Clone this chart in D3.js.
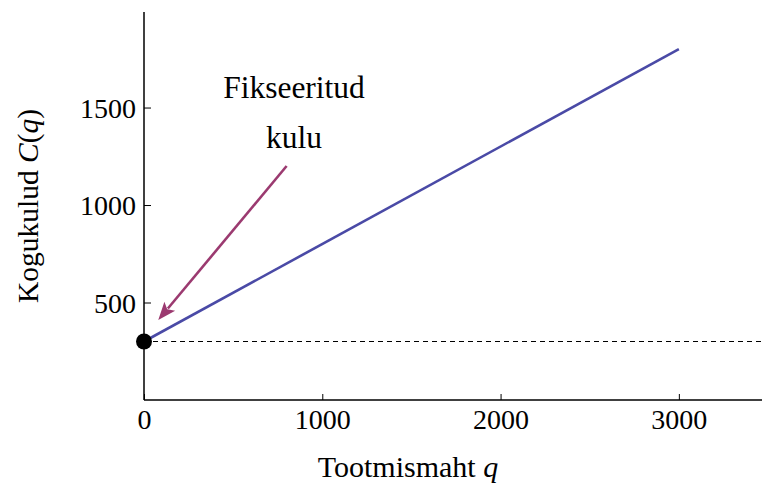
<!DOCTYPE html>
<html><head><meta charset="utf-8">
<script src="https://cdn.jsdelivr.net/npm/d3@7"></script>
<style>
html,body{margin:0;padding:0;background:#fff;}
svg{display:block;}
text{font-family:"Liberation Serif","Times New Roman",serif;fill:#000;}
</style></head>
<body>
<svg id="c" width="762" height="486"></svg>
<script>
const xTicks = [0, 1000, 2000, 3000];
const yTicks = [500, 1000, 1500];
const costQ = [0, 3000];
const costC = [300, 1800];
const fixedCost = 300;
const arrowFrom = [800, 1200];
const arrowTo = [80, 410];
const annotation = ["Fikseeritud", "kulu"];

const svg = d3.select("#c");
const x = d3.scaleLinear().domain([0, 3500]).range([144, 768]);
const y = d3.scaleLinear().domain([0, 1990]).range([400, 12]);

// dashed fixed cost line
svg.append("line")
  .attr("x1", x(0)).attr("x2", 762)
  .attr("y1", y(fixedCost)).attr("y2", y(fixedCost))
  .attr("stroke", "#000").attr("stroke-width", 1.2)
  .attr("stroke-dasharray", "5,4");

// axes
const xAxis = d3.axisBottom(x).tickValues(xTicks).tickSizeInner(-6).tickSizeOuter(0).tickPadding(8).tickFormat(d3.format("d"));
const gx = svg.append("g").attr("transform", `translate(0,${y(0)})`).call(xAxis);
const yAxis = d3.axisLeft(y).tickValues(yTicks).tickSizeInner(-7).tickSizeOuter(0).tickPadding(8).tickFormat(d3.format("d"));
const gy = svg.append("g").attr("transform", `translate(${x(0)},0)`).call(yAxis);
[gx, gy].forEach(g => {
  g.selectAll(".domain").attr("stroke", "#000").attr("stroke-width", 1.5);
  g.selectAll(".tick line").attr("stroke", "#000").attr("stroke-width", 1);
  g.selectAll(".tick text").style("font-family", '"Liberation Serif",serif').style("font-size", "28px").attr("fill", "#000");
});
gx.select(".domain").attr("d", `M${x(0)},0H762`);
gy.select(".domain").attr("d", `M0,${y(0)}V${y(1990)}`);
gy.selectAll(".tick text").attr("dy", "0.35em");
gx.selectAll(".tick text").attr("dy", "0.75em");

// cost line
const line = d3.line().x((d, i) => x(costQ[i])).y(d => y(d));
svg.append("path").datum(costC).attr("d", line)
  .attr("fill", "none").attr("stroke", "#4a4aa6").attr("stroke-width", 2.6);

// arrow
const ax1 = x(arrowFrom[0]), ay1 = y(arrowFrom[1]);
const ax2 = x(arrowTo[0]), ay2 = y(arrowTo[1]);
const ang = Math.atan2(ay2 - ay1, ax2 - ax1);
const hl = 18, hw = 7;
const bx = ax2 - hl * Math.cos(ang), by = ay2 - hl * Math.sin(ang);
svg.append("line").attr("x1", ax1).attr("y1", ay1).attr("x2", bx + 3*Math.cos(ang)).attr("y2", by + 3*Math.sin(ang))
  .attr("stroke", "#9b3a70").attr("stroke-width", 2.6);
svg.append("path")
  .attr("d", `M${ax2},${ay2}L${bx - hw*Math.sin(ang)},${by + hw*Math.cos(ang)}L${bx + 4*Math.cos(ang)},${by + 4*Math.sin(ang)}L${bx + hw*Math.sin(ang)},${by - hw*Math.cos(ang)}Z`)
  .attr("fill", "#9b3a70");

// point
svg.append("circle").attr("cx", x(0)).attr("cy", y(fixedCost)).attr("r", 8).attr("fill", "#000");

// annotation
svg.selectAll("text.ann").data(annotation).enter().append("text")
  .attr("class", "ann").attr("x", 294).attr("y", (d, i) => 98 + i * 50)
  .attr("text-anchor", "middle").style("font-size", "31.5px").text(d => d);

// axis labels
const xl = svg.append("text").attr("x", 408).attr("y", 477).attr("text-anchor", "middle").style("font-size", "30px");
xl.append("tspan").text("Tootmismaht ");
xl.append("tspan").style("font-style", "italic").text("q");
const yl = svg.append("text").attr("transform", "translate(38,206) rotate(-90)").attr("text-anchor", "middle").style("font-size", "29.5px");
yl.append("tspan").text("Kogukulud ");
yl.append("tspan").style("font-style", "italic").text("C");
yl.append("tspan").text("(");
yl.append("tspan").style("font-style", "italic").text("q");
yl.append("tspan").text(")");
</script>
</body></html>
